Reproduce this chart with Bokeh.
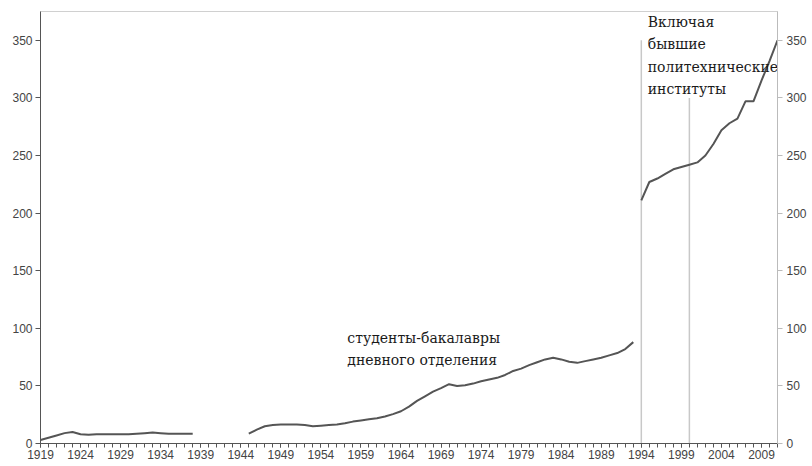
from bokeh.plotting import figure
from bokeh.models import LinearAxis, FixedTicker, Range1d
from bokeh.core.properties import value
from bokeh.embed import file_html
from bokeh.resources import INLINE

# ---- data ----
years_a = list(range(1919, 1939))
vals_a = [3, 5, 7, 9, 10, 8, 7.5, 8, 8, 8, 8, 8, 8.5, 9, 9.5, 9, 8.5, 8.5, 8.5, 8.5]

years_b = list(range(1945, 1994))
vals_b = [8.5, 12, 15, 16, 16.5, 16.5, 16.5, 16, 15, 15.5, 16, 16.5, 17.5, 19, 20, 21,
          22, 23.5, 25.5, 28, 32, 37, 41, 45, 48, 51.5, 50, 50.5, 52, 54, 55.5, 57,
          59.5, 63, 65, 68, 70.5, 73, 74.5, 73, 71, 70, 71.5, 73, 74.5, 76.5, 78.5, 82, 88]

years_c = list(range(1994, 2012))
vals_c = [211, 227, 230, 234, 238, 240, 242, 244, 250, 260, 272, 278, 282, 297, 297, 315, 332, 350]

vline_years = [1994, 2000]
vline_tops = [350, 300]

x_tick_labels = list(range(1919, 2010, 5))
y_ticks = [0, 50, 100, 150, 200, 250, 300, 350]

label_students = "студенты-бакалавры\nдневного отделения"
label_incl = "Включая\nбывшие\nполитехнические\nинституты"

# ---- figure ----
p = figure(width=812, height=466, output_backend="svg", toolbar_location=None,
           x_range=Range1d(1919, 2011), y_range=Range1d(0, 375),
           min_border_left=40, min_border_right=35, min_border_top=11, min_border_bottom=23)
p.background_fill_color = "white"
p.border_fill_color = "white"
p.outline_line_color = "#d0d0d0"
p.grid.visible = False

font = "Liberation Sans"

# x axis
xa = p.xaxis[0]
xa.ticker = FixedTicker(ticks=x_tick_labels, minor_ticks=list(range(1919, 2012)))
xa.axis_line_color = "#555555"
xa.major_tick_line_color = "#555555"
xa.minor_tick_line_color = "#555555"
xa.major_tick_in = 0
xa.major_tick_out = 4
xa.minor_tick_in = 0
xa.minor_tick_out = 4
xa.major_label_standoff = 2
xa.major_label_text_font = font
xa.major_label_text_font_size = "12px"
xa.major_label_text_color = "#444444"

# left y axis
ya = p.yaxis[0]
ya.ticker = FixedTicker(ticks=y_ticks)
ya.axis_line_color = "#555555"
ya.major_tick_line_color = "#555555"
ya.major_tick_in = 0
ya.major_tick_out = 5
ya.minor_tick_line_color = None
ya.major_label_standoff = 3
ya.major_label_text_font = font
ya.major_label_text_font_size = "12px"
ya.major_label_text_color = "#444444"

# right y axis
ra = LinearAxis(ticker=FixedTicker(ticks=y_ticks))
ra.axis_line_color = "#bbbbbb"
ra.major_tick_line_color = "#bbbbbb"
ra.major_tick_in = 0
ra.major_tick_out = 5
ra.minor_tick_line_color = None
ra.major_label_standoff = 4
ra.major_label_text_font = font
ra.major_label_text_font_size = "12px"
ra.major_label_text_color = "#444444"
p.add_layout(ra, "right")

# vertical separator lines
p.segment(x0=vline_years, y0=[0, 0], x1=vline_years, y1=vline_tops,
          line_color="#c8c8c8", line_width=1.5)

# data lines
for xs, ys in ((years_a, vals_a), (years_b, vals_b), (years_c, vals_c)):
    p.line(xs, ys, line_color="#555555", line_width=2)

# annotations
serif = value("DejaVu Serif")
p.text(x=[1957.3], y=[98.5], text=[label_students], text_font=serif,
       text_font_size="14px", text_color="#1a1a1a", text_baseline="top", text_align="left",
       text_line_height=1.4)
p.text(x=[1994.8], y=[373], text=[label_incl], text_font=serif,
       text_font_size="14px", text_color="#1a1a1a", text_baseline="top", text_align="left",
       text_line_height=1.4)

open("out.html", "w").write(file_html(p, INLINE))
